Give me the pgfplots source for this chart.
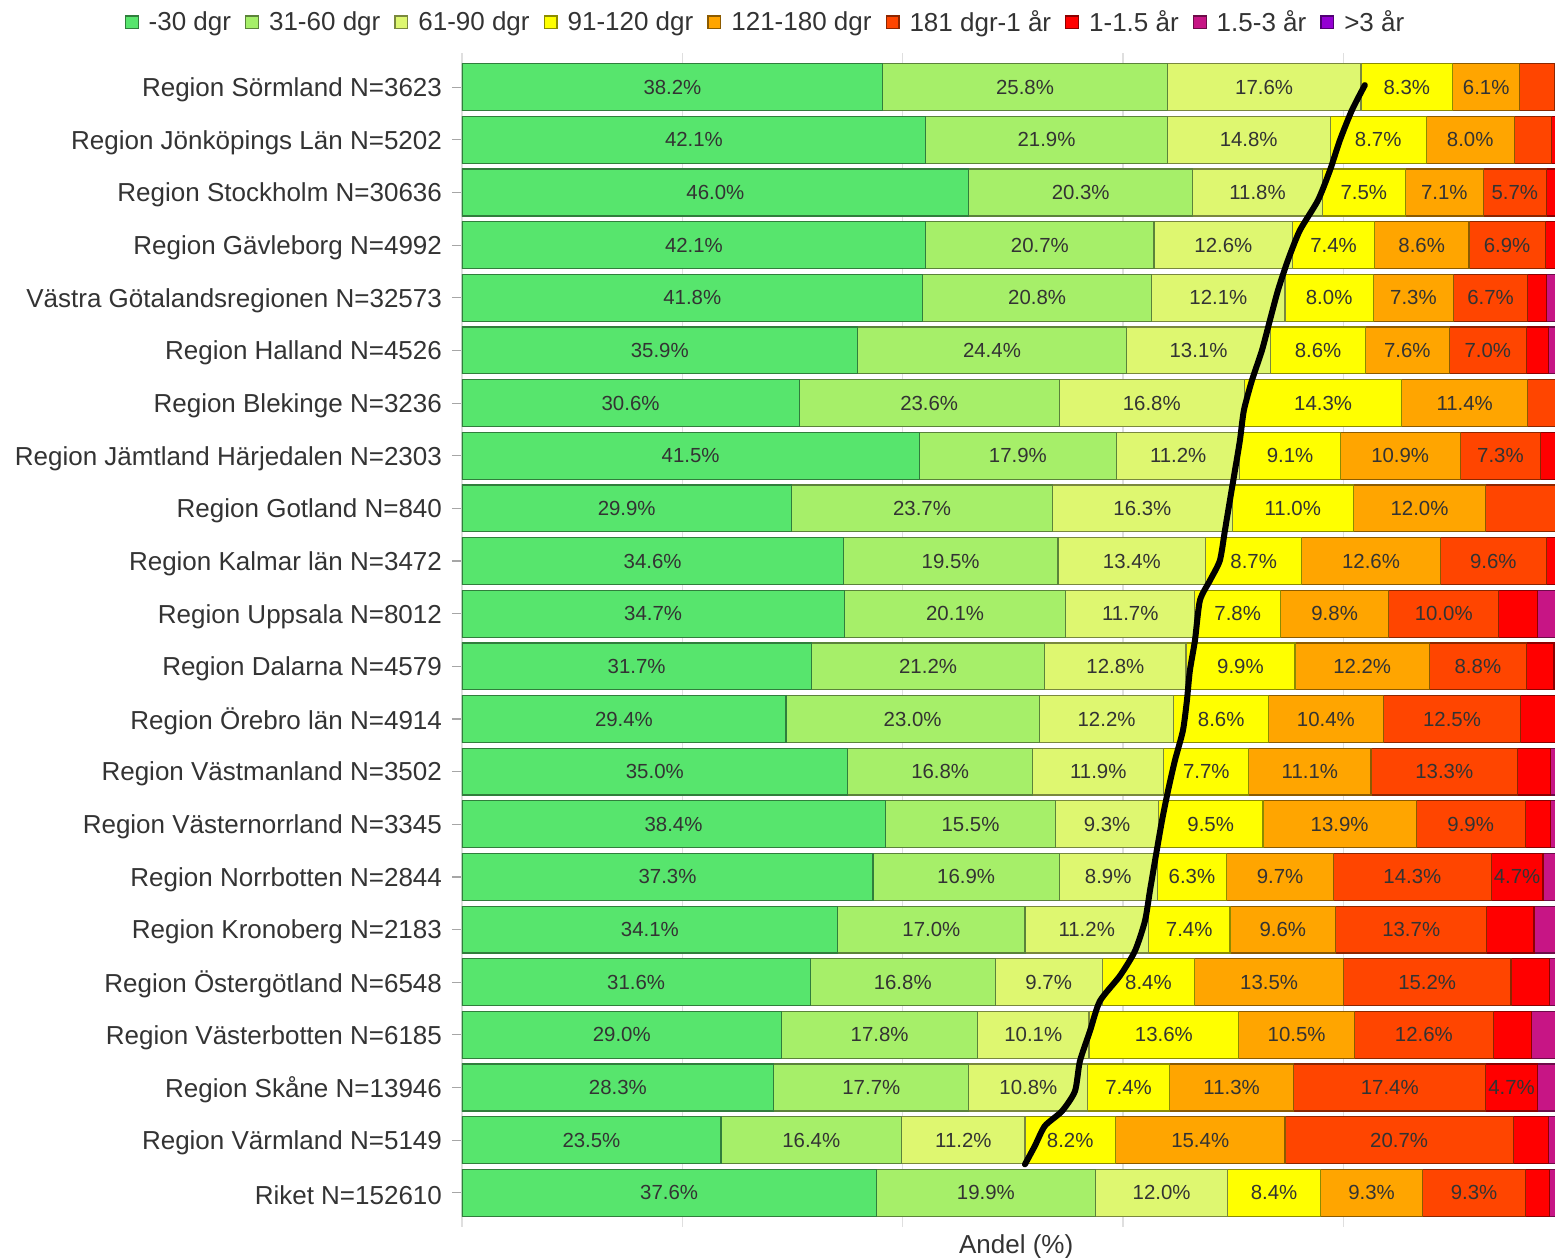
\documentclass[border=0pt]{standalone}
\usepackage{pgfplots}
\pgfplotsset{compat=1.18}
\usepackage{fontspec}
\setmainfont{Liberation Sans}
\definecolor{c1}{RGB}{87,229,109}
\definecolor{c2}{RGB}{166,239,105}
\definecolor{c3}{RGB}{222,247,112}
\definecolor{c4}{RGB}{255,255,0}
\definecolor{c5}{RGB}{255,165,0}
\definecolor{c6}{RGB}{255,69,0}
\definecolor{c7}{RGB}{255,0,0}
\definecolor{c8}{RGB}{199,21,133}
\definecolor{c9}{RGB}{148,0,211}
\definecolor{txt}{RGB}{51,51,51}
\pgfplotsset{
  seg/.style={fill=#1, draw=#1!55!black, line width=0.6bp},
}
\newcommand{\lblfont}{\fontsize{13bp}{15bp}\selectfont}
\newcommand{\barfont}{\fontsize{10.2bp}{12bp}\selectfont}
\begin{document}
\begin{tikzpicture}
\begin{axis}[
  scale only axis, width=546.5bp, height=587bp,
  xbar stacked, bar width=0.89,
  xmin=0, xmax=99.2, ymin=-0.65, ymax=21.65, y dir=reverse,
  axis line style={draw=none},
  xtick={20,40,60,80}, xticklabels={},
  xmajorgrids, major grid style={gray!25, line width=0.6bp},
  x tick style={draw=none},
  extra x ticks={0}, extra x tick labels={},
  extra x tick style={grid style={gray!60, line width=0.8bp}},
  ytick={0,...,21}, ytick pos=left, tick align=outside,
  y tick style={gray!70, line width=0.6bp}, major tick length=5bp,
  yticklabels={
    {Region Sörmland N=3623},
    {Region Jönköpings Län N=5202},
    {Region Stockholm N=30636},
    {Region Gävleborg N=4992},
    {Västra Götalandsregionen N=32573},
    {Region Halland N=4526},
    {Region Blekinge N=3236},
    {Region Jämtland Härjedalen N=2303},
    {Region Gotland N=840},
    {Region Kalmar län N=3472},
    {Region Uppsala N=8012},
    {Region Dalarna N=4579},
    {Region Örebro län N=4914},
    {Region Västmanland N=3502},
    {Region Västernorrland N=3345},
    {Region Norrbotten N=2844},
    {Region Kronoberg N=2183},
    {Region Östergötland N=6548},
    {Region Västerbotten N=6185},
    {Region Skåne N=13946},
    {Region Värmland N=5149},
    {Riket N=152610}},
  yticklabel style={font=\lblfont, text=txt, xshift=-1.5bp, yshift=-1.3bp},
  xlabel={Andel (\%)},
  xlabel style={at={(axis description cs:0.507,0)}, anchor=north, inner sep=0pt, yshift=-3.5bp, font=\lblfont, text=txt},
  point meta=explicit symbolic,
  nodes near coords={\pgfplotspointmeta},
  every node near coord/.append style={anchor=center, font=\barfont, text=txt},
  legend columns=9,
  legend style={at={(0.2786,1.026)}, anchor=center, draw=none, fill=none, font=\lblfont, text=txt,
    /tikz/every even column/.append style={column sep=5bp},
    /tikz/every odd column/.append style={column sep=3bp}},
  legend image code/.code={\draw[#1, line width=0.6bp] (0bp,-3.2bp) rectangle (6.4bp,3.2bp);},
]
\addplot[seg=c1] coordinates {
(38.2,0) [38.2\%] (42.1,1) [42.1\%] (46.0,2) [46.0\%] (42.1,3) [42.1\%] (41.8,4) [41.8\%]
(35.9,5) [35.9\%] (30.6,6) [30.6\%] (41.5,7) [41.5\%] (29.9,8) [29.9\%] (34.6,9) [34.6\%]
(34.7,10) [34.7\%] (31.7,11) [31.7\%] (29.4,12) [29.4\%] (35.0,13) [35.0\%] (38.4,14) [38.4\%]
(37.3,15) [37.3\%] (34.1,16) [34.1\%] (31.6,17) [31.6\%] (29.0,18) [29.0\%] (28.3,19) [28.3\%]
(23.5,20) [23.5\%] (37.6,21) [37.6\%]
};
\addplot[seg=c2] coordinates {
(25.8,0) [25.8\%] (21.9,1) [21.9\%] (20.3,2) [20.3\%] (20.7,3) [20.7\%] (20.8,4) [20.8\%]
(24.4,5) [24.4\%] (23.6,6) [23.6\%] (17.9,7) [17.9\%] (23.7,8) [23.7\%] (19.5,9) [19.5\%]
(20.1,10) [20.1\%] (21.2,11) [21.2\%] (23.0,12) [23.0\%] (16.8,13) [16.8\%] (15.5,14) [15.5\%]
(16.9,15) [16.9\%] (17.0,16) [17.0\%] (16.8,17) [16.8\%] (17.8,18) [17.8\%] (17.7,19) [17.7\%]
(16.4,20) [16.4\%] (19.9,21) [19.9\%]
};
\addplot[seg=c3] coordinates {
(17.6,0) [17.6\%] (14.8,1) [14.8\%] (11.8,2) [11.8\%] (12.6,3) [12.6\%] (12.1,4) [12.1\%]
(13.1,5) [13.1\%] (16.8,6) [16.8\%] (11.2,7) [11.2\%] (16.3,8) [16.3\%] (13.4,9) [13.4\%]
(11.7,10) [11.7\%] (12.8,11) [12.8\%] (12.2,12) [12.2\%] (11.9,13) [11.9\%] (9.3,14) [9.3\%]
(8.9,15) [8.9\%] (11.2,16) [11.2\%] (9.7,17) [9.7\%] (10.1,18) [10.1\%] (10.8,19) [10.8\%]
(11.2,20) [11.2\%] (12.0,21) [12.0\%]
};
\addplot[seg=c4] coordinates {
(8.3,0) [8.3\%] (8.7,1) [8.7\%] (7.5,2) [7.5\%] (7.4,3) [7.4\%] (8.0,4) [8.0\%]
(8.6,5) [8.6\%] (14.3,6) [14.3\%] (9.1,7) [9.1\%] (11.0,8) [11.0\%] (8.7,9) [8.7\%]
(7.8,10) [7.8\%] (9.9,11) [9.9\%] (8.6,12) [8.6\%] (7.7,13) [7.7\%] (9.5,14) [9.5\%]
(6.3,15) [6.3\%] (7.4,16) [7.4\%] (8.4,17) [8.4\%] (13.6,18) [13.6\%] (7.4,19) [7.4\%]
(8.2,20) [8.2\%] (8.4,21) [8.4\%]
};
\addplot[seg=c5] coordinates {
(6.1,0) [6.1\%] (8.0,1) [8.0\%] (7.1,2) [7.1\%] (8.6,3) [8.6\%] (7.3,4) [7.3\%]
(7.6,5) [7.6\%] (11.4,6) [11.4\%] (10.9,7) [10.9\%] (12.0,8) [12.0\%] (12.6,9) [12.6\%]
(9.8,10) [9.8\%] (12.2,11) [12.2\%] (10.4,12) [10.4\%] (11.1,13) [11.1\%] (13.9,14) [13.9\%]
(9.7,15) [9.7\%] (9.6,16) [9.6\%] (13.5,17) [13.5\%] (10.5,18) [10.5\%] (11.3,19) [11.3\%]
(15.4,20) [15.4\%] (9.3,21) [9.3\%]
};
\addplot[seg=c6] coordinates {
(3.2,0) [] (3.4,1) [] (5.7,2) [5.7\%] (6.9,3) [6.9\%] (6.7,4) [6.7\%]
(7.0,5) [7.0\%] (2.6,6) [] (7.3,7) [7.3\%] (6.4,8) [6.4\%] (9.6,9) [9.6\%]
(10.0,10) [10.0\%] (8.8,11) [8.8\%] (12.5,12) [12.5\%] (13.3,13) [13.3\%] (9.9,14) [9.9\%]
(14.3,15) [14.3\%] (13.7,16) [13.7\%] (15.2,17) [15.2\%] (12.6,18) [12.6\%] (17.4,19) [17.4\%]
(20.7,20) [20.7\%] (9.3,21) [9.3\%]
};
\addplot[seg=c7] coordinates {
(0.4,0) [] (0.6,1) [] (1.0,2) [] (1.1,3) [] (1.7,4) []
(2.0,5) [] (0.4,6) [] (1.4,7) [] (0.4,8) [] (1.0,9) []
(3.5,10) [] (2.5,11) [] (3.3,12) [] (3.0,13) [] (2.3,14) []
(4.7,15) [4.7\%] (4.3,16) [] (3.5,17) [] (3.5,18) [] (4.7,19) [4.7\%]
(3.2,20) [] (2.2,21) []
};
\addplot[seg=c8] coordinates {
(0.2,0) [] (0.4,1) [] (0.4,2) [] (0.4,3) [] (1.2,4) []
(1.0,5) [] (0.2,6) [] (0.5,7) [] (0.2,8) [] (0.4,9) []
(1.8,10) [] (0.6,11) [] (0.4,12) [] (0.9,13) [] (0.9,14) []
(1.4,15) [] (2.0,16) [] (0.9,17) [] (2.2,18) [] (1.8,19) []
(1.0,20) [] (0.9,21) []
};
\addplot[seg=c9] coordinates {
(0.2,0) [] (0.1,1) [] (0.2,2) [] (0.2,3) [] (0.4,4) []
(0.4,5) [] (0.1,6) [] (0.2,7) [] (0.1,8) [] (0.2,9) []
(0.6,10) [] (0.3,11) [] (0.2,12) [] (0.3,13) [] (0.3,14) []
(0.5,15) [] (0.7,16) [] (0.4,17) [] (0.7,18) [] (0.6,19) []
(0.4,20) [] (0.4,21) []
};
\legend{-30 dgr, 31-60 dgr, 61-90 dgr, 91-120 dgr, 121-180 dgr, 181 dgr-1 år, 1-1.5 år, 1.5-3 år, >3 år}
\end{axis}
\begin{axis}[
  scale only axis, width=546.5bp, height=587bp,
  xmin=0, xmax=99.2, ymin=-0.65, ymax=21.65, y dir=reverse,
  hide axis,
]
\addplot[black, line width=3bp, line join=round, line cap=round, smooth, tension=0.4, mark=none] coordinates {
(81.94,-0.04) (80.76,0.44) (79.67,1.01) (78.77,1.58) (77.68,2.15) (76.04,2.72)
(74.95,3.29) (74.05,3.86) (73.32,4.43) (72.60,5.00) (71.69,5.57) (70.96,6.14)
(70.60,6.71) (70.15,7.28) (69.69,7.85) (69.24,8.42) (68.78,8.99) (67.88,9.37)
(66.97,9.75) (66.52,10.51) (66.06,11.08) (65.79,11.65) (65.43,12.22) (64.70,12.79)
(64.07,13.37) (63.52,13.94) (62.89,14.70) (62.43,15.27) (61.98,15.84) (61.07,16.41)
(59.71,16.88) (57.89,17.36) (56.99,17.93) (56.08,18.50) (55.63,19.07) (54.45,19.45)
(52.90,19.73) (51.99,20.11) (51.09,20.46)
};
\end{axis}
\pgfresetboundingbox
\useasboundingbox (-231bp,-15.5bp) rectangle (546.5bp,613.5bp);
\end{tikzpicture}
\end{document}
